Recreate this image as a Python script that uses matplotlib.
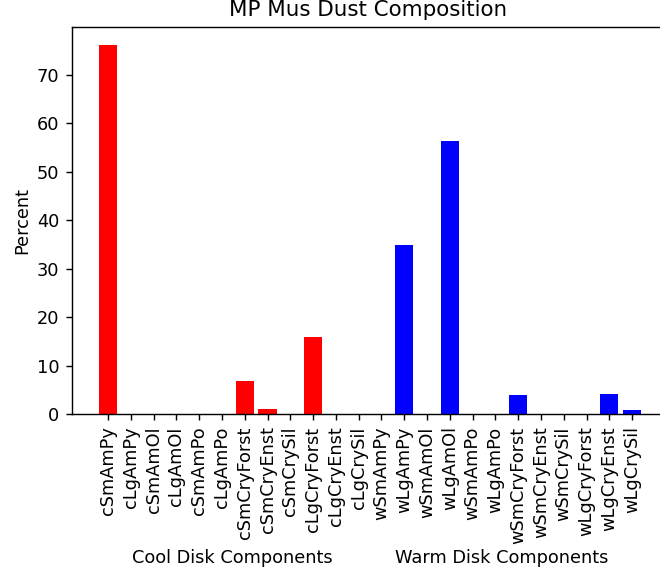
import numpy as np
import matplotlib
matplotlib.use('Agg')
import matplotlib.pyplot as plt

# component names
cool = ['cSmAmPy','cLgAmPy','cSmAmOl','cLgAmOl','cSmAmPo','cLgAmPo',
        'cSmCryForst','cSmCryEnst','cSmCrySil','cLgCryForst','cLgCryEnst','cLgCrySil']
warm = ['wSmAmPy','wLgAmPy','wSmAmOl','wLgAmOl','wSmAmPo','wLgAmPo',
        'wSmCryForst','wSmCryEnst','wSmCrySil','wLgCryForst','wLgCryEnst','wLgCrySil']

# percentages
cool_pct = [76.0, 0, 0, 0, 0, 0, 6.8, 1.1, 0, 15.8, 0, 0]
warm_pct = [0, 34.8, 0, 56.3, 0, 0, 4.0, 0, 0, 0, 4.2, 0.9]

names = cool + warm
x = np.arange(len(names))

# reference looks like default style drawn at ~1.28x scale
s = 1.28
plt.rcParams['font.size'] = 10*s
plt.rcParams['axes.linewidth'] = 0.8*s
plt.rcParams['xtick.major.size'] = 3.5*s
plt.rcParams['ytick.major.size'] = 3.5*s
plt.rcParams['xtick.major.width'] = 0.8*s
plt.rcParams['ytick.major.width'] = 0.8*s
plt.rcParams['xtick.major.pad'] = 3.5*s
plt.rcParams['ytick.major.pad'] = 3.5*s

fig = plt.figure(figsize=(6.6, 5.75), dpi=100)
ax = fig.add_axes([72/660., 1-414/575., (664-72)/660., (414-27)/575.])

ax.bar(x[:len(cool)], cool_pct, width=0.8, color='red')
ax.bar(x[len(cool):], warm_pct, width=0.8, color='blue')

ax.set_xticks(x)
ax.set_xticklabels(names, rotation=90)
ax.set_xlim(-1.58, 24.4)
ax.set_ylabel('Percent')
ax.set_title('MP Mus Dust Composition', pad=6*s)

fig.text(232/660., 1-558/575., 'Cool Disk Components', ha='center', va='center')
fig.text(502/660., 1-558/575., 'Warm Disk Components', ha='center', va='center')

plt.savefig('out.png', dpi=100)
